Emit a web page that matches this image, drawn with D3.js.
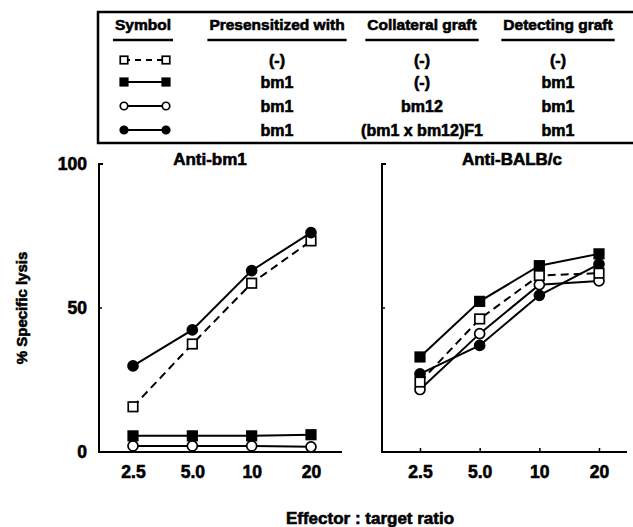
<!DOCTYPE html>
<html>
<head>
<meta charset="utf-8">
<script src="https://cdn.jsdelivr.net/npm/d3@7"></script>
<style>
  body { margin: 0; background: #fff; }
  svg { display: block; font-family: 'Liberation Sans', Arial, sans-serif; font-weight: bold; }
  svg text { stroke: #000; stroke-width: 0.6px; fill: #000; }
</style>
</head>
<body>
<div class="container"></div>
<script>
let width = 633;
let height = 527;

// effector : target ratios
let ratios = [2.5, 5.0, 10, 20];
let ratioLabels = ['2.5', '5.0', '10', '20'];
let yTicks = [0, 50, 100];

// % specific lysis, anti-bm1 panel
let bm1OpenSquare = [15.7, 37.5, 58.6, 73.3];
let bm1FilledSquare = [5.6, 5.6, 5.6, 6.0];
let bm1OpenCircle = [2.1, 2.1, 2.1, 1.8];
let bm1FilledCircle = [29.9, 42.4, 63.0, 76.2];

// % specific lysis, anti-BALB/c panel
let balbOpenSquare = [24.3, 46.2, 61.3, 62.1];
let balbFilledSquare = [33.0, 52.3, 64.7, 68.8];
let balbOpenCircle = [21.7, 41.1, 58.1, 59.4];
let balbFilledCircle = [27.1, 37.0, 54.4, 65.2];

// legend table
let headers = ['Symbol', 'Presensitized with', 'Collateral graft', 'Detecting graft'];
let presensitized = ['(-)', 'bm1', 'bm1', 'bm1'];
let collateral = ['(-)', '(-)', 'bm12', '(bm1 x bm12)F1'];
let detecting = ['(-)', 'bm1', 'bm1', 'bm1'];
let symbols = [
  { shape: 'square', filled: false, dashed: true },
  { shape: 'square', filled: true, dashed: false },
  { shape: 'circle', filled: false, dashed: false },
  { shape: 'circle', filled: true, dashed: false }
];

let svg = d3.select('.container').append('svg')
  .attr('width', width)
  .attr('height', height);

let y = d3.scaleLinear().domain([0, 100]).range([452, 164]);

function drawMarker(g, sym, cx, cy, size) {
  let fill = sym.filled ? '#000' : '#fff';
  if (sym.shape === 'square') {
    g.append('rect')
      .attr('x', cx - size / 2)
      .attr('y', cy - size / 2)
      .attr('width', size)
      .attr('height', size)
      .attr('fill', fill)
      .attr('stroke', '#000')
      .attr('stroke-width', 1.7);
  } else {
    g.append('circle')
      .attr('cx', cx)
      .attr('cy', cy)
      .attr('r', size / 2)
      .attr('fill', fill)
      .attr('stroke', '#000')
      .attr('stroke-width', 1.7);
  }
}

function drawPanel(opts) {
  let x = d3.scaleLog().domain([2.5, 20]).range(opts.range);
  let g = svg.append('g');

  // axes lines
  g.append('path')
    .attr('d', `M${opts.axisX + 4},${y(100)}H${opts.axisX}V${y(0)}H${opts.axisEnd}`)
    .attr('fill', 'none')
    .attr('stroke', '#000')
    .attr('stroke-width', 2);

  g.append('line')
    .attr('x1', opts.axisX)
    .attr('x2', opts.axisX + 3)
    .attr('y1', y(50))
    .attr('y2', y(50))
    .attr('stroke', '#000')
    .attr('stroke-width', 1.5);

  let xAxis = d3.axisBottom(x)
    .tickValues(ratios)
    .tickFormat((d, i) => ratioLabels[i])
    .tickSizeInner(-4)
    .tickSizeOuter(0)
    .tickPadding(14);

  let ax = g.append('g')
    .attr('transform', `translate(0,${y(0)})`)
    .call(xAxis);
  ax.select('.domain').remove();
  ax.selectAll('line').attr('stroke-width', 1.5);
  ax.selectAll('text')
    .attr('font-size', 17.5)
    .attr('font-family', "'Liberation Sans', Arial, sans-serif")
    .attr('font-weight', 'bold')
    .attr('fill', '#000');

  if (opts.yLabels) {
    let yAxis = d3.axisLeft(y).tickValues(yTicks).tickSize(0).tickPadding(12);
    let ay = g.append('g')
      .attr('transform', `translate(${opts.axisX},0)`)
      .call(yAxis);
    ay.select('.domain').remove();
    ay.selectAll('text')
      .attr('font-size', 17.5)
      .attr('font-family', "'Liberation Sans', Arial, sans-serif")
      .attr('font-weight', 'bold')
      .attr('fill', '#000');
  }

  g.append('text')
    .text(opts.title)
    .attr('x', opts.titleX)
    .attr('y', 165)
    .attr('text-anchor', 'middle')
    .attr('font-size', 17);

  let line = d3.line()
    .x((d, i) => x(ratios[i]))
    .y((d) => y(d));

  for (let s of opts.series) {
    g.append('path')
      .datum(s.values)
      .attr('d', line)
      .attr('fill', 'none')
      .attr('stroke', '#000')
      .attr('stroke-width', 2)
      .attr('stroke-dasharray', s.sym.dashed ? '8,5' : null);
  }

  for (let s of opts.series) {
    s.values.forEach((v, i) => {
      drawMarker(g, s.sym, x(ratios[i]), y(v), s.sym.shape === 'square' ? 9.5 : 10);
    });
  }
}

drawPanel({
  title: 'Anti-bm1',
  titleX: 210,
  axisX: 99,
  axisEnd: 342,
  range: [133, 311],
  yLabels: true,
  series: [
    { sym: symbols[2], values: bm1OpenCircle },
    { sym: symbols[1], values: bm1FilledSquare },
    { sym: symbols[0], values: bm1OpenSquare },
    { sym: symbols[3], values: bm1FilledCircle }
  ]
});

drawPanel({
  title: 'Anti-BALB/c',
  titleX: 512,
  axisX: 382,
  axisEnd: 627,
  range: [420, 599],
  yLabels: false,
  series: [
    { sym: symbols[3], values: balbFilledCircle },
    { sym: symbols[2], values: balbOpenCircle },
    { sym: symbols[0], values: balbOpenSquare },
    { sym: symbols[1], values: balbFilledSquare }
  ]
});

// axis titles
svg.append('text')
  .text('% Specific lysis')
  .attr('transform', 'translate(27,308) rotate(-90)')
  .attr('text-anchor', 'middle')
  .attr('font-size', 15);

svg.append('text')
  .text('Effector : target ratio')
  .attr('x', 370)
  .attr('y', 524)
  .attr('text-anchor', 'middle')
  .attr('font-size', 17);

// legend table
let legend = svg.append('g');
let colX = [143, 277, 422, 558];
let rowY = [60, 82, 106, 130];

legend.append('path')
  .attr('d', 'M640,12H98V143H640')
  .attr('fill', 'none')
  .attr('stroke', '#000')
  .attr('stroke-width', 2.5);

headers.forEach((h, i) => {
  let t = legend.append('text')
    .text(h)
    .attr('x', colX[i])
    .attr('y', 30)
    .attr('text-anchor', 'middle')
    .attr('font-size', 15.5);
  let w = t.node().getComputedTextLength();
  legend.append('line')
    .attr('x1', colX[i] - w / 2 - 2)
    .attr('x2', colX[i] + w / 2 + 2)
    .attr('y1', 40)
    .attr('y2', 40)
    .attr('stroke', '#000')
    .attr('stroke-width', 2.5);
});

let columns = [presensitized, collateral, detecting];

for (let r = 0; r < symbols.length; r++) {
  let sym = symbols[r];
  legend.append('line')
    .attr('x1', 124)
    .attr('x2', 166)
    .attr('y1', rowY[r])
    .attr('y2', rowY[r])
    .attr('stroke', '#000')
    .attr('stroke-width', 1.8)
    .attr('stroke-dasharray', sym.dashed ? '6,5' : null);
  drawMarker(legend, sym, 124, rowY[r], 7.5);
  drawMarker(legend, sym, 166, rowY[r], 7.5);

  columns.forEach((col, c) => {
    legend.append('text')
      .text(col[r])
      .attr('x', colX[c + 1])
      .attr('y', rowY[r] + 5.5)
      .attr('text-anchor', 'middle')
      .attr('font-size', 16);
  });
}
</script>
</body>
</html>
